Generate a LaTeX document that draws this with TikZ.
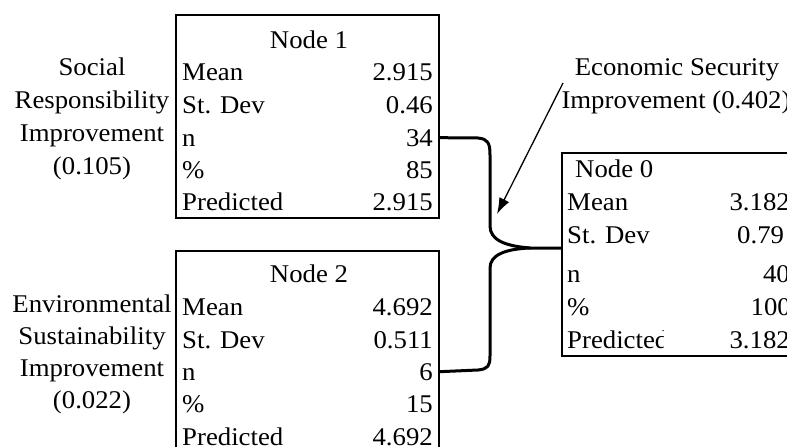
\documentclass[tikz,border=0pt]{standalone}
\usepackage{fontspec}
\setmainfont[FakeStretch=1.05]{Liberation Serif}
\usetikzlibrary{arrows.meta}
\begin{document}
\begin{tikzpicture}[x=1pt,y=-1pt,
 box/.style={draw,line width=2pt,inner sep=0pt,anchor=north west},
 txt/.style={inner sep=0pt,font=\fontsize{25.5}{30}\selectfont},
 lab/.style={txt,anchor=base west},
 val/.style={txt,anchor=base east},
 side/.style={txt,anchor=base},
 conn/.style={line width=3pt,line join=round,line cap=round},
 ann/.style={line width=1.3pt,-{Latex[length=16pt,width=11pt]}}]
\useasboundingbox (0,0) rectangle (787,447);
% boxes
\node[box,minimum width=263pt,minimum height=203pt] (n1box) at (175,14) {};
\node[box,minimum width=263pt,minimum height=230pt] (n2box) at (175,250) {};
\node[box,minimum width=260pt,minimum height=203pt] (n0box) at (561,152) {};
% Node 1
\node[side] (n1t) at (309,48) {Node 1};
\foreach \l/\v/\y [count=\i] in {Mean/2.915/80, St. Dev/0.46/113, n/34/146, \%/85/178, Predicted/2.915/210}{
  \node[lab] (n1l\i) at (182,\y) {\l};
  \node[val] (n1v\i) at (433,\y) {\v};
}
% Node 2
\node[side] (n2t) at (309,282) {Node 2};
\foreach \l/\v/\y [count=\i] in {Mean/4.692/315, St. Dev/0.511/348, n/6/380, \%/15/412, Predicted/4.692/445}{
  \node[lab] (n2l\i) at (182,\y) {\l};
  \node[val] (n2v\i) at (433,\y) {\v};
}
% Node 0
\node[lab] (n0t) at (575,177) {Node 0};
\node[lab] (n0l1) at (567,210) {Mean};
\node[lab] (n0l2) at (567,243) {St. Dev};
\node[lab] (n0l3) at (567,282) {n};
\node[lab] (n0l4) at (567,315) {\%};
\begin{scope}
\clip (560,320) rectangle (663,360);
\node[lab] (n0l5) at (567,348) {Predicted};
\end{scope}
\node[val] (n0v1) at (790,210) {3.182};
\node[lab] (n0v2) at (737,243) {0.79};
\node[val] (n0v3) at (790,282) {40};
\node[val] (n0v4) at (791,315) {100};
\node[val] (n0v5) at (790,348) {3.182};
% side labels
\node[side] (s1) at (92,75) {Social};
\node[side] (s2) at (92,108) {Responsibility};
\node[side] (s3) at (92,141) {Improvement};
\node[side] (s4) at (92,174) {(0.105)};
\node[side] (e1) at (92,312) {Environmental};
\node[side] (e2) at (92,344) {Sustainability};
\node[side] (e3) at (92,376) {Improvement};
\node[side] (e4) at (92,408) {(0.022)};
\node[side] (ec1) at (677,75) {Economic Security};
\node[side] (ec2) at (676,108) {Improvement (0.402)};
% connectors
\coordinate (j) at (530,248);
\draw[conn] (n1box.east |- n1v3) -- (478,138) .. controls (488,139) and (490,143) .. (490,155) -- (490,226) .. controls (490,240) and (505,246) .. (j) -- (n0box.west |- j);
\draw[conn] (n2box.east |- n2v3) -- (478,370) .. controls (488,369) and (490,366) .. (490,356) -- (490,268) .. controls (490,255) and (505,249) .. (j);
% arrow
\coordinate (as) at (563,83);
\coordinate (ae) at (497,214);
\draw[ann] (as) -- (ae);
\end{tikzpicture}
\end{document}
